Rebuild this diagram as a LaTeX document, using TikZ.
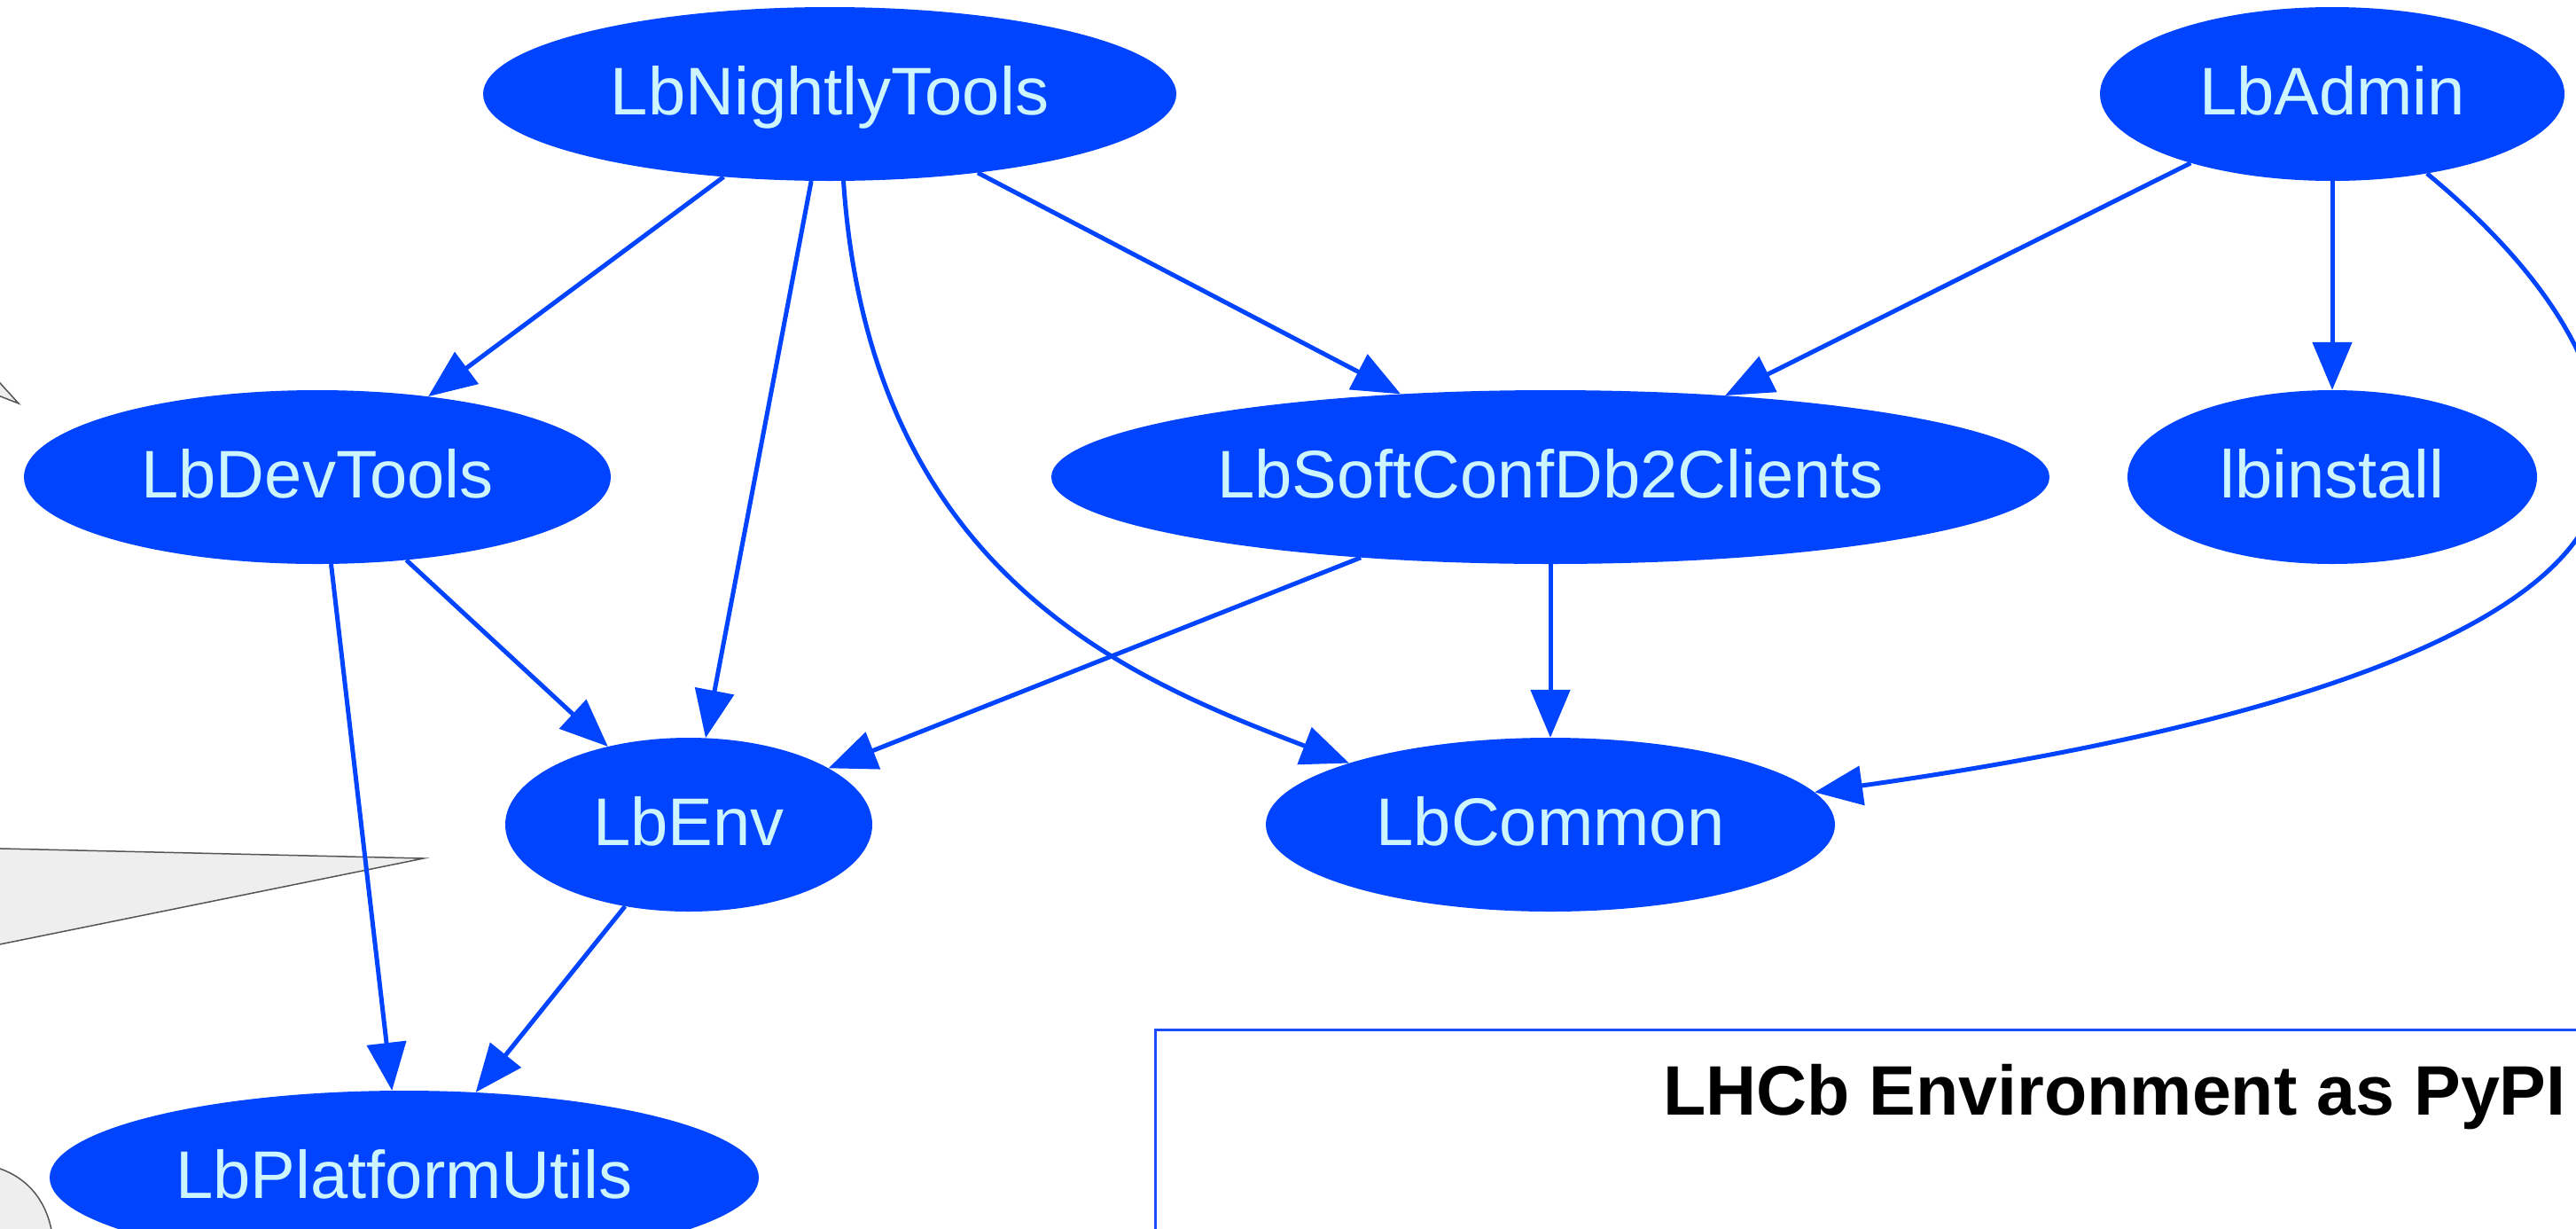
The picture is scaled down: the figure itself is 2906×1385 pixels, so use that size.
\documentclass[tikz,border=0pt]{standalone}
\usepackage{fontspec}
\setmainfont{Liberation Sans}
\usetikzlibrary{arrows.meta,shapes.geometric}
\definecolor{nodeblue}{HTML}{0044FF}
\definecolor{nodetext}{HTML}{CCF5FF}
\definecolor{boxblue}{HTML}{1A4DFF}
\definecolor{calloutfill}{HTML}{EEEEEE}
\definecolor{calloutline}{HTML}{555555}
\begin{document}
\begin{tikzpicture}[x=1pt,y=-1pt,
  pkg/.style={ellipse, fill=nodeblue, text=nodetext, inner sep=0pt,
    font=\fontsize{76}{80}\selectfont, text height=58pt, text depth=12pt,
    minimum height=196pt},
  dep/.style={draw=nodeblue, line width=5pt, -{Triangle[length=54pt,width=44pt]}},
  callout/.style={fill=calloutfill, draw=calloutline, line width=1.5pt}]
\useasboundingbox (0,0) rectangle (2906,1385);
\clip (0,0) rectangle (2906,1385);

% partial callouts at the left edge
\draw[callout] (-20,410) -- (21,455) -- (-20,439) -- cycle;
\draw[callout] (-20,956.5) -- (478,968) -- (-20,1069) -- cycle;
\draw[callout] (-20,1313) .. controls (25,1320) and (55,1350) .. (60,1400) -- (-20,1400) -- cycle;

% info box
\draw[boxblue, line width=3pt] (1303,1161) rectangle (3000,1500);
\node[anchor=base west, inner sep=0pt, font=\bfseries\fontsize{79}{90}\selectfont] (title) at (1876,1257) {LHCb Environment as PyPI};

% packages
\node[pkg, minimum width=782pt] (nt) at (936,106) {LbNightlyTools};
\node[pkg, minimum width=524pt] (ad) at (2631,106) {LbAdmin};
\node[pkg, minimum width=662pt] (dt) at (358,538) {LbDevTools};
\node[pkg, minimum width=1126pt] (sc) at (1749,538) {LbSoftConfDb2Clients};
\node[pkg, minimum width=462pt] (li) at (2631,538) {lbinstall};
\node[pkg, minimum width=414pt] (en) at (777,930) {LbEnv};
\node[pkg, minimum width=642pt] (co) at (1749,930) {LbCommon};
\node[pkg, minimum width=800pt] (pu) at (456,1328) {LbPlatformUtils};

\coordinate (adloop) at (2935,525);

% dependencies
\draw[dep] (nt.-142.8) -- (dt.36.9);
\draw[dep] (nt.-102.7) -- (en.79.6);
\draw[dep] (nt.-81.3) .. controls +(30,450) and +(-238,-92) .. (co.163.7);
\draw[dep] (nt.-28.6) -- (sc.151.5);
\draw[dep] (ad.-154.2) -- (sc.25.8);
\draw[dep] (ad.-90) -- (li.90);
\draw[dep] (ad.-40.1) .. controls (2840,280) and (2945,400) .. (adloop)
   .. controls (2935,720) and (2500,830) .. (co.7.3);
\draw[dep] (dt.-81.9) -- (pu.98.7);
\draw[dep] (dt.-43.2) -- (en.136);
\draw[dep] (sc.-157.4) -- (en.22.6);
\draw[dep] (sc.-90) -- (co.90);
\draw[dep] (en.-128.5) -- (pu.50.9);
\end{tikzpicture}
\end{document}
